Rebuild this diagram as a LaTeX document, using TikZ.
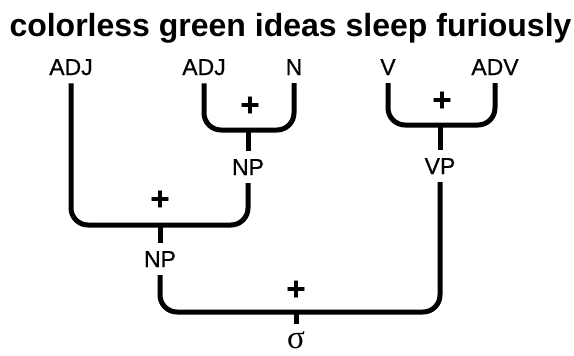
\documentclass[tikz,border=0pt]{standalone}
\usepackage{fontspec}
\setmainfont{Liberation Sans}
\newfontfamily\lblfont[FakeBold=0.6]{Liberation Sans}
\newfontfamily\plusfont[FakeBold=2.5]{DejaVu Sans Bold}
\newfontfamily\sigmafont{Liberation Serif}
\begin{document}
\begin{tikzpicture}[x=1pt,y=-1pt,
  lbl/.style={font=\lblfont\fontsize{23}{23}\selectfont, inner xsep=0pt, inner ysep=8pt, anchor=base},
  pls/.style={font=\plusfont\fontsize{26}{26}\selectfont, inner sep=0pt},
  br/.style={line width=5pt, rounded corners=17pt}]
\useasboundingbox (0,0) rectangle (574,356);
\node[anchor=base, inner sep=0pt, font=\fontsize{32}{32}\selectfont\bfseries] (title) at (290.5,37) {colorless green ideas sleep furiously};
% word labels
\node[lbl] (adj1) at (71,75) {ADJ};
\node[lbl] (adj2) at (204,75) {ADJ};
\node[lbl] (n) at (294,75) {N};
\node[lbl] (v) at (388,75) {V};
\node[lbl] (adv) at (495,75) {ADV};
% phrase labels
\node[lbl] (np1) at (248,175) {NP};
\node[lbl] (vp) at (440,174) {VP};
\node[lbl] (np2) at (160,267) {NP};
\node[anchor=north, inner sep=0pt, font=\sigmafont\fontsize{33}{33}\selectfont] (s) at (296,331) {σ};
% junctions
\coordinate (j1) at (248,130);
\coordinate (j2) at (440,125);
\coordinate (j3) at (160,225);
\coordinate (j4) at (296,312);
% brackets
\draw[br] (adj2.south) |- (j1) -| (n.south);
\draw[br] (j1) -- (np1.north);
\draw[br] (v.south) |- (j2) -| (adv.south);
\draw[br] (j2) -- (vp.north);
\draw[br] (adj1.south) |- (j3) -| (np1.south);
\draw[br] (j3) -- (np2.north);
\draw[br] (np2.south) |- (j4) -| (vp.south);
\draw[br] (j4) -- ([yshift=7pt]s.north);
% plus signs
\node[pls] (p1) at (250,105) {+};
\node[pls] (p2) at (442,100) {+};
\node[pls] (p3) at (160,199) {+};
\node[pls] (p4) at (296,289) {+};
\end{tikzpicture}
\end{document}
